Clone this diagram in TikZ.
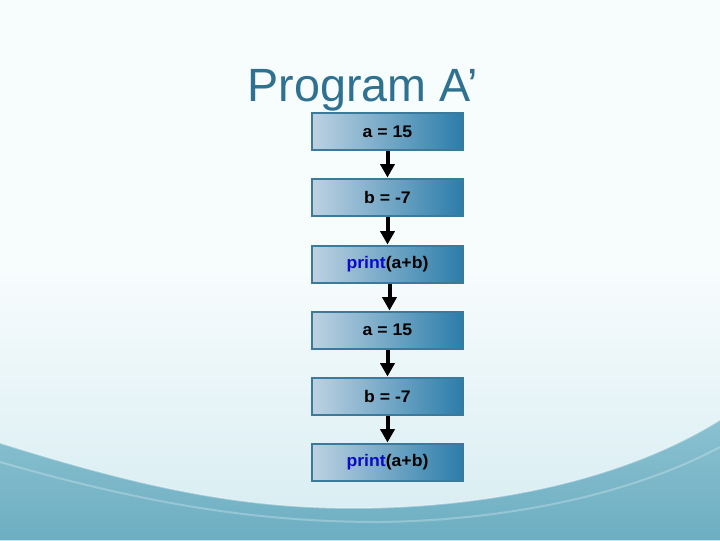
\documentclass[tikz,border=0pt]{standalone}
\usepackage{fontspec}
\setmainfont{Liberation Sans}
\newfontfamily\boxfont[FakeStretch=1.05]{Liberation Sans}
\usetikzlibrary{arrows.meta}
\definecolor{bgtop}{HTML}{F7FCFD}
\definecolor{bgmid}{HTML}{D6ECF1}
\definecolor{bglow}{HTML}{B3D8E2}
\definecolor{teal1}{HTML}{8AC1D0}
\definecolor{teal2}{HTML}{6DAEC2}
\definecolor{titlecol}{HTML}{2F7190}
\definecolor{boxleft}{HTML}{BDD2E2}
\definecolor{boxright}{HTML}{2B7DAA}
\definecolor{boxedge}{HTML}{3B7A9A}
\definecolor{kw}{HTML}{0A0AC8}
\pgfdeclareverticalshading{bgshade}{100bp}{color(0bp)=(bglow); color(25bp)=(bgmid); color(50bp)=(bgtop); color(100bp)=(bgtop)}
\tikzset{
  stepbox/.style={draw=boxedge, line width=1.5pt, left color=boxleft, right color=boxright,
    minimum width=113.25pt, minimum height=27.75pt, inner sep=0pt,
    font=\boxfont\bfseries\fontsize{12.6pt}{14pt}\selectfont, text=black},
  flow/.style={line width=3pt, -{Triangle[width=10.5pt,length=10pt]}, black}
}
\begin{document}
\begin{tikzpicture}[x=0.75pt,y=-0.75pt]
\useasboundingbox (0,0) rectangle (720,540);
% background
\shade[shading=bgshade] (0,0) rectangle (720,540);
% teal band
\shade[top color=teal1, bottom color=teal2]
  (0,443) .. controls (150,490) and (250,510) .. (370,508)
  .. controls (520,505) and (640,470) .. (720,420) -- (720,540) -- (0,540) -- cycle;
\draw[white, opacity=0.35, line width=1.2pt]
  (0,443) .. controls (150,490) and (250,510) .. (370,508)
  .. controls (520,505) and (640,470) .. (720,420);
\draw[white, opacity=0.25, line width=1.5pt]
  (0,462) .. controls (150,505) and (260,522) .. (380,522)
  .. controls (520,520) and (640,490) .. (720,447);
% title
\node[anchor=base, text=titlecol, font=\fontsize{35pt}{40pt}\selectfont] (title) at (362.5,101) {Program A’};
% boxes
\node[stepbox] (b1) at (387.5,131.5) {a = 15};
\node[stepbox] (b2) at (387.5,197) {b = -7};
\node[stepbox] (b3) at (387.5,264) {\textcolor{kw}{print}(a+b)};
\node[stepbox] (b4) at (387.5,330) {a = 15};
\node[stepbox] (b5) at (387.5,396) {b = -7};
\node[stepbox] (b6) at (387.5,462) {\textcolor{kw}{print}(a+b)};
% arrows
\draw[flow] (b1.south) -- (b2.north);
\draw[flow] (b2.south) -- (b3.north);
\draw[flow] ([xshift=1.5pt]b3.south) -- ([xshift=1.5pt]b4.north);
\draw[flow] (b4.south) -- (b5.north);
\draw[flow] (b5.south) -- (b6.north);
\end{tikzpicture}
\end{document}
